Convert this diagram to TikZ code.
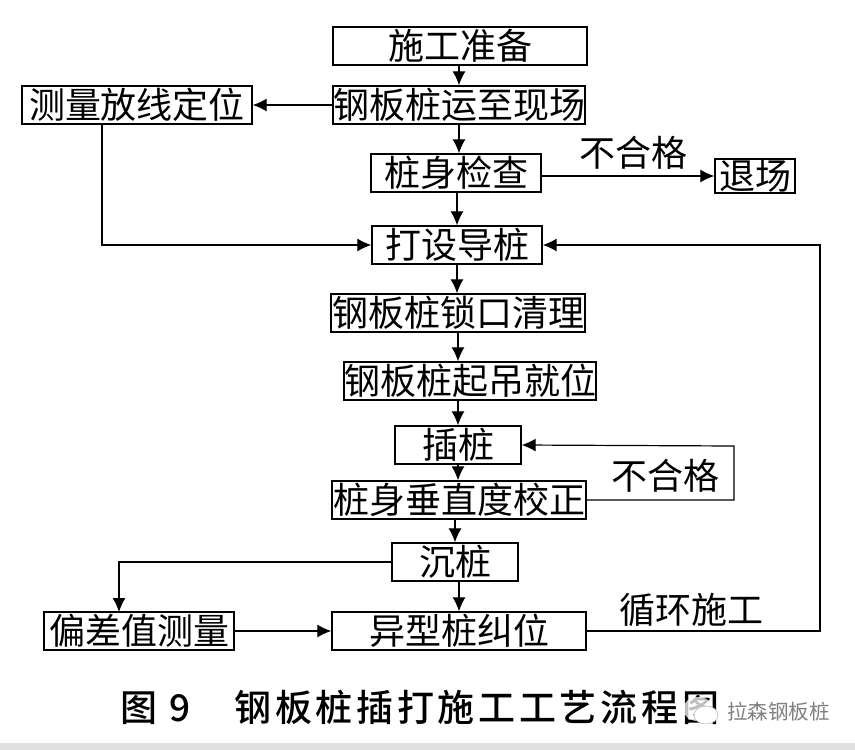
\documentclass[tikz,border=0pt]{standalone}
\usepackage{fontspec}
\setmainfont[BoldFont={Noto Sans CJK SC Medium}]{Noto Sans CJK SC}
\usetikzlibrary{positioning, arrows.meta, calc}
\begin{document}
\begin{tikzpicture}[x=1pt,y=-1pt,
    box/.style={rectangle, draw, line width=1.4pt, inner sep=0pt, align=center, font=\fontsize{36}{36}\selectfont},
    arrow/.style={-{Latex[length=14pt,width=13pt]}, line width=1.2pt},
    label/.style={font=\fontsize{36}{36}\selectfont, inner sep=0pt}
]
    \useasboundingbox (0,0) rectangle (855,750);
    \fill[white] (0,0) rectangle (855,750);
    \fill[black!12] (0,743) rectangle (855,750);
    % Main column
    \node[box, minimum width=254pt, minimum height=38pt] (prepare) at (460,46) {施工准备};
    \node[box, minimum width=252pt, minimum height=38pt] (transport) at (459,105) {钢板桩运至现场};
    \node[box, minimum width=230pt, minimum height=38pt] (survey) at (137,105) {测量放线定位};
    \node[box, minimum width=170pt, minimum height=38pt] (inspect) at (456,173) {桩身检查};
    \node[box, minimum width=80pt, minimum height=34pt] (exit) at (755,176) {退场};
    \node[box, minimum width=170pt, minimum height=38pt] (guide) at (457,245) {打设导桩};
    \node[box, minimum width=254pt, minimum height=38pt] (clean) at (458,313) {钢板桩锁口清理};
    \node[box, minimum width=252pt, minimum height=38pt] (lift) at (470,381) {钢板桩起吊就位};
    \node[box, minimum width=126pt, minimum height=38pt] (insert) at (458,445) {插桩};
    \node[box, minimum width=254pt, minimum height=38pt] (correct) at (459,500) {桩身垂直度校正};
    \node[box, minimum width=126pt, minimum height=38pt] (sink) at (455,562) {沉桩};
    \node[box, minimum width=190pt, minimum height=38pt] (measure) at (139,631) {偏差值测量};
    \node[box, minimum width=254pt, minimum height=38pt] (special) at (459,631) {异型桩纠位};
    % Free corners
    \coordinate (redo) at (734,446);
    \coordinate (loop) at (820,631);
    \coordinate (surveydown) at (102,124);
    \coordinate (sinkleft) at (119,612);
    \coordinate (sinkdown) at (459,581);
    % Arrows
    \draw[arrow] (prepare.south -| transport) -- (transport.north);
    \draw[arrow] (transport) -- (survey);
    \draw[arrow] (transport.south) -- (transport.south |- inspect.north);
    \draw[arrow] (inspect.east |- exit) -- (exit);
    \draw[arrow] (inspect.south -| guide) -- (guide.north);
    \draw[arrow] (surveydown) |- (guide);
    \draw[arrow] (guide.south) -- (guide.south |- clean.north);
    \draw[arrow] (clean.south) -- (clean.south |- lift.north);
    \draw[arrow] (lift.south -| insert) -- (insert.north);
    \draw[arrow] (insert.south) -- (insert.south |- correct.north);
    \draw[arrow] (correct.east) -- (redo |- correct.east) -- (redo) -- (insert.east);
    \draw[arrow] (correct.south -| sink) -- (sink.north);
    \draw[arrow] (sink.west) -| (sinkleft);
    \draw[arrow] (sinkdown) -- (special.north -| sinkdown);
    \draw[arrow] (measure) -- (special);
    \draw[arrow] (special) -- (loop) -- (loop |- guide) -- (guide);
    % Labels
    \node[label] (fail1) at (633,153) {不合格};
    \node[label] (fail2) at (665,476) {不合格};
    \node[label] (cycle) at (691,610) {循环施工};
    \node[font=\fontsize{37}{37}\selectfont\bfseries\addfontfeature{LetterSpace=10}, inner sep=0pt, anchor=west] (title) at (120,707) {图 9\hspace{44pt}钢板桩插打施工工艺流程图};
    % Watermark
    \fill[white, opacity=0.75] (698,709) ellipse (15pt and 12pt);
    \fill[white, draw=black!30, line width=0.5pt] (706,715) ellipse (12pt and 9pt);
    \node[font=\fontsize{20.5}{20.5}\selectfont, text=black!50, inner sep=0pt, anchor=west] (mark) at (727,712) {拉森钢板桩};
\end{tikzpicture}
\end{document}
